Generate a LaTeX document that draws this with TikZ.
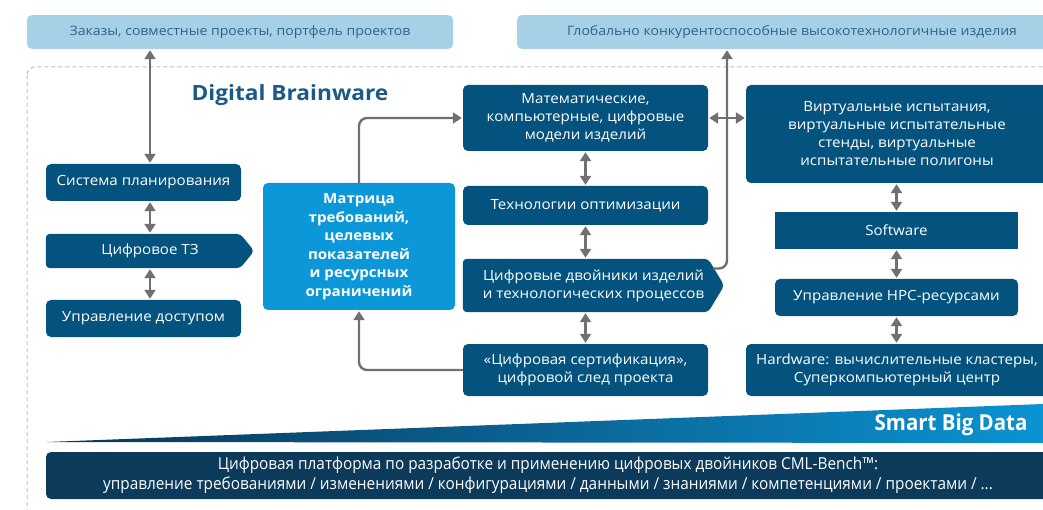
\documentclass[tikz,border=0pt]{standalone}
\usepackage{fontspec}
\setmainfont[FakeStretch=1.08]{Open Sans}
\newfontfamily\narrowfont[FakeStretch=0.93]{Open Sans}
\usetikzlibrary{arrows.meta}
\usetikzlibrary{calc}
\pgfdeclarelayer{background}
\pgfsetlayers{background,main}
\definecolor{boxdark}{HTML}{04537E}
\definecolor{boxlight}{HTML}{A5D0E6}
\definecolor{boxbright}{HTML}{0B97D8}
\definecolor{textlight}{HTML}{2E6389}
\definecolor{titleblue}{HTML}{1B5987}
\definecolor{arrowgray}{HTML}{707070}
\definecolor{platform}{HTML}{0B3A5B}
\definecolor{wedgeleft}{HTML}{0A3556}
\definecolor{wedgemid}{HTML}{07557F}
\definecolor{wedgeright}{HTML}{0B93D2}
\colorlet{framelines}{gray!50}

\tikzset{
    box/.style={align=center, inner sep=0pt, text=white,
        font=\fontsize{14}{18}\selectfont},
    darkbox/.style={box, fill=boxdark, rounded corners=5pt},
    lightbox/.style={box, fill=boxlight, rounded corners=5pt, text=textlight,
        font=\fontsize{13}{16}\selectfont},
    arr/.style={draw=arrowgray, line width=2.4pt, shorten >=1pt,
        -{Triangle[width=11pt,length=9pt]}},
    dbl/.style={arr, shorten <=1pt,
        {Triangle[width=11pt,length=9pt]}-{Triangle[width=11pt,length=9pt]}}
}

\begin{document}
\begin{tikzpicture}[x=1pt, y=-1pt]
        \useasboundingbox (0,0) rectangle (1043,510);
        % frame
        \draw[framelines, line width=1pt, dash pattern=on 4pt off 3pt, rounded corners=8pt]
            (27,67) rectangle (1080,560);
        % top row
        \node[lightbox, minimum width=426, minimum height=34] (orders) at (240,32)
            {Заказы, совместные проекты, портфель проектов};
        \node[lightbox, minimum width=550, minimum height=34] (glob) at (792,32)
            {Глобально конкурентоспособные высокотехнологичные изделия};
        \node[text=titleblue, font=\fontsize{21}{24}\bfseries] (title) at (290,95)
            {Digital Brainware};
        % left column
        \node[darkbox, minimum width=195, minimum height=37] (sp) at (143.5,182.5)
            {Система планирования};
        \node[box, minimum width=208, minimum height=34] (tz) at (150,251)
            {Цифровое ТЗ};
        \node[darkbox, minimum width=195, minimum height=37] (ud) at (143.5,318.5)
            {Управление доступом};
        \node[box, fill=boxbright, rounded corners=5pt, minimum width=192, minimum height=127,
            font=\fontsize{14}{18.5}\bfseries] (mat) at (359,246.5)
            {Матрица\\требований,\\целевых\\показателей\\и ресурсных\\ограничений};
        % middle column
        \node[darkbox, minimum width=245, minimum height=66] (mm) at (585.5,118)
            {Математические,\\компьютерные, цифровые\\модели изделий};
        \node[darkbox, minimum width=245, minimum height=39] (opt) at (585.5,205.5)
            {Технологии оптимизации};
        \node[box, minimum width=261, minimum height=53] (dt) at (593.5,285.5)
            {Цифровые двойники изделий\\и технологических процессов};
        \node[darkbox, minimum width=245, minimum height=52] (cert) at (585.5,370)
            {«Цифровая сертификация»,\\цифровой след проекта};
        % right column
        \node[darkbox, minimum width=302, minimum height=98] (virt) at (897,134)
            {Виртуальные испытания,\\виртуальные испытательные\\стенды, виртуальные\\испытательные полигоны};
        \node[box, fill=boxdark, minimum width=243, minimum height=37] (sw) at (896.5,230.5)
            {Software};
        \node[darkbox, minimum width=243, minimum height=37] (hpc) at (896.5,297.5)
            {Управление HPC-ресурсами};
        \node[darkbox, minimum width=302, minimum height=52] (hw) at (897,370)
            {Hardware: вычислительные кластеры,\\Суперкомпьютерный центр};
        % arrow shaped boxes
        \begin{pgfonlayer}{background}
            \fill[boxdark, rounded corners=4pt] (tz.north west) -- ([xshift=-14pt]tz.north east)
                -- (tz.east) -- ([xshift=-14pt]tz.south east) -- (tz.south west) -- cycle;
            \fill[boxdark, rounded corners=4pt] (dt.north west) -- ([xshift=-16pt]dt.north east)
                -- (dt.east) -- ([xshift=-16pt]dt.south east) -- (dt.south west) -- cycle;
        \end{pgfonlayer}
        % smart big data
        \shade[left color=wedgeleft, middle color=wedgemid, right color=wedgeright]
            (47,442) -- (1043,404) -- (1043,443) -- cycle;
        \node[anchor=east, text=white, font=\narrowfont\fontsize{22}{24}\bfseries] (sbd) at (1031,425)
            {Smart Big Data};
        \node[box, fill=platform, rounded corners=5pt, minimum width=1004, minimum height=47,
            font=\narrowfont\fontsize{16.5}{20}\selectfont] (cml) at (548,475.5)
            {Цифровая платформа по разработке и применению цифровых двойников CML-Bench™:\\
             управление требованиями / изменениями / конфигурациями / данными / знаниями / компетенциями / проектами / ...};
        % arrows
        \draw[dbl] (orders.south -| tz) -- (sp.north -| tz);
        \foreach \a/\b in {sp/tz, tz/ud}
        {
            \draw[dbl] (\a.south -| tz) -- (\b.north -| tz);
        }
        \foreach \a/\b in {mm/opt, opt/dt, dt/cert}
        {
            \draw[dbl] (\a.south -| mm) -- (\b.north -| mm);
        }
        \foreach \a/\b in {virt/sw, sw/hpc, hpc/hw}
        {
            \draw[dbl] (\a.south -| sw) -- (\b.north -| sw);
        }
        \draw[dbl] (mm.east) -- (mm.east -| virt.west);
        \draw[arr, rounded corners=8pt] (mat.north) |- (mm.west);
        \draw[arr, rounded corners=8pt] (cert.west) -| (mat.south);
        \draw[arr, rounded corners=8pt] ($(dt.east)+(-11,-17)$) -| ([xshift=-65pt]glob.south);
    \end{tikzpicture}
\end{document}
